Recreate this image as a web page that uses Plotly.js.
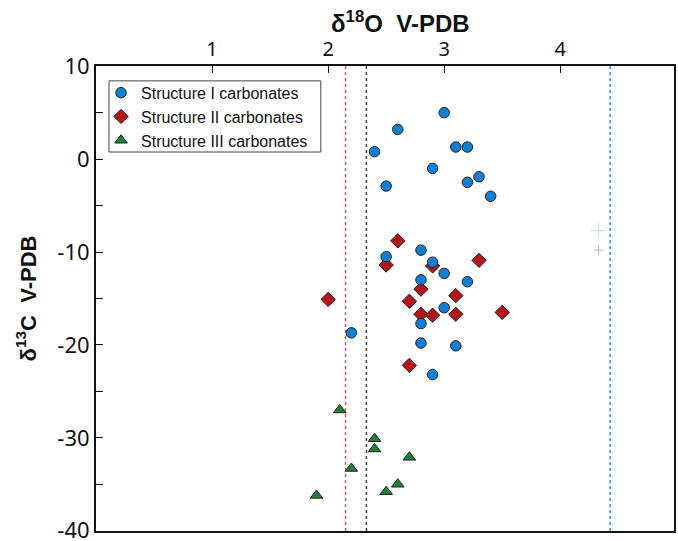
<!DOCTYPE html>
<html>
<head>
<meta charset="utf-8">
<script src="https://cdn.plot.ly/plotly-3.0.1.min.js"></script>
<style>html,body{margin:0;padding:0;background:#fff;}#chart{width:678px;height:541px;}</style>
</head>
<body>
<div id="chart"></div>
<script>
// Structure I carbonates (circles)
const s1_d18O = [3.0, 2.6, 2.4, 3.1, 3.2, 2.9, 2.5, 3.2, 3.3, 3.4, 2.8, 2.5, 2.9, 3.0, 3.2, 2.8, 3.0, 2.8, 2.2, 2.8, 3.1, 2.9];
const s1_d13C = [5.0, 3.2, 0.8, 1.3, 1.3, -1.0, -2.9, -2.5, -1.9, -4.0, -9.8, -10.5, -11.1, -12.3, -13.2, -13.0, -16.0, -17.7, -18.7, -19.8, -20.1, -23.2];
// Structure II carbonates (diamonds)
const s2_d18O = [2.0, 2.6, 2.5, 2.9, 3.3, 2.8, 2.7, 3.1, 2.8, 2.9, 3.1, 3.5, 2.7];
const s2_d13C = [-15.1, -8.8, -11.4, -11.5, -10.9, -14.0, -15.3, -14.7, -16.7, -16.8, -16.7, -16.5, -22.2];
// Structure III carbonates (triangles)
const s3_d18O = [2.1, 2.4, 2.4, 2.7, 2.2, 2.6, 2.5, 1.9];
const s3_d13C = [-27.0, -30.1, -31.2, -32.1, -33.3, -35.0, -35.8, -36.2];
// faint reference crosses on the right
const ref_d18O = [4.33, 4.33];
const ref_d13C = [-7.7, -9.8];
// vertical dotted reference lines (d18O values)
const vline_red = 2.15;
const vline_black = 2.33;
const vline_blue = 4.43;

const xTicks = [1, 2, 3, 4];
const yTicks = [10, 0, -10, -20, -30, -40];
const yTickText = ['10', '0', '-10', '-20', '-30', '-40'];
const yMinor = [5, -5, -15, -25, -35];
const names = ['Structure I carbonates', 'Structure II carbonates', 'Structure III carbonates'];
const xTitle = 'δ<sup>18</sup>O\u00a0\u00a0V-PDB';
const yTitle = 'δ<sup>13</sup>C\u00a0\u00a0V-PDB';

const traces = [
  {
    x: s2_d18O, y: s2_d13C, type: 'scatter', mode: 'markers', name: names[1], legendrank: 2,
    marker: {symbol: 'diamond', size: 11, color: '#b3151b', line: {color: '#222', width: 1}},
    error_x: {type: 'constant', value: 0.065, color: 'rgba(225,160,170,0.55)', thickness: 1, width: 0},
    error_y: {type: 'constant', value: 0.8, color: 'rgba(225,160,170,0.55)', thickness: 1, width: 0}
  },
  {
    x: s1_d18O, y: s1_d13C, type: 'scatter', mode: 'markers', name: names[0], legendrank: 1,
    marker: {symbol: 'circle', size: 10.5, color: '#0f7fd3', line: {color: '#222', width: 1}}
  },
  {
    x: s3_d18O, y: s3_d13C, type: 'scatter', mode: 'markers', name: names[2], legendrank: 3,
    marker: {symbol: 'triangle-up', size: 11, color: '#22803a', line: {color: '#222', width: 1}}
  },
  {
    x: ref_d18O, y: ref_d13C, type: 'scatter', mode: 'markers', showlegend: false, hoverinfo: 'skip',
    marker: {symbol: 'cross-thin', size: [11, 7], line: {color: ['#9fd0f3', '#a0a0a0'], width: 1}}
  }
];

const vline = (x, color) => ({
  type: 'line', xref: 'x', yref: 'paper', x0: x, x1: x, y0: 0, y1: 1, layer: 'below',
  line: {color: color, width: 1.5, dash: 'dot'}
});

const legendBox = {
  type: 'rect', xref: 'paper', yref: 'paper', x0: 0.0225, x1: 0.389, y0: 0.815, y1: 0.968,
  layer: 'above', fillcolor: '#fff', line: {color: '#444', width: 1}
};

const titleFont = (s) => ({size: s, family: 'Liberation Sans, Arial, sans-serif', color: '#111', weight: 'bold'});
const tickFont = (s) => ({size: s, family: 'Noto Sans, Liberation Sans, sans-serif', color: '#111'});

const layout = {
  width: 678, height: 541,
  margin: {l: 96, r: 4, t: 66, b: 10},
  paper_bgcolor: '#fff', plot_bgcolor: '#fff',
  font: {family: 'Liberation Sans, Arial, sans-serif', color: '#111'},
  showlegend: true,
  legend: {
    x: 0.0087, y: 0.979, xanchor: 'left', yanchor: 'top',
    bgcolor: 'rgba(0,0,0,0)', borderwidth: 0,
    font: {size: 16, family: 'Liberation Sans, Arial, sans-serif', color: '#111'},
    tracegroupgap: 0, itemwidth: 30
  },
  xaxis: {
    side: 'top', range: [0, 4.98], tickvals: xTicks, ticktext: xTicks.map(String),
    ticks: 'inside', ticklen: 7, tickwidth: 1, tickcolor: '#111',
    showline: true, linewidth: 2, linecolor: '#111', mirror: true,
    showgrid: false, zeroline: false, ticklabeloverflow: 'allow',
    tickfont: tickFont(20)
  },
  yaxis: {
    range: [-40.03, 10.02], tickvals: yTicks, ticktext: yTickText,
    ticks: 'inside', ticklen: 7, tickwidth: 1, tickcolor: '#111',
    minor: {tickvals: yMinor, ticks: 'inside', ticklen: 7, tickwidth: 1, tickcolor: '#111'},
    showline: true, linewidth: 2, linecolor: '#111', mirror: true,
    showgrid: false, zeroline: false, ticklabeloverflow: 'allow',
    tickfont: tickFont(22),
    title: {text: yTitle, font: titleFont(22), standoff: 15}
  },
  annotations: [{
    text: xTitle, xref: 'paper', yref: 'paper', x: 0.526, y: 1.094,
    xanchor: 'center', yanchor: 'middle', showarrow: false, font: titleFont(24)
  }],
  shapes: [vline(vline_red, '#d0575c'), vline(vline_black, '#444'), vline(vline_blue, '#1e96e0'), legendBox]
};

Plotly.newPlot('chart', traces, layout, {displayModeBar: false, staticPlot: true});
</script>
</body>
</html>
